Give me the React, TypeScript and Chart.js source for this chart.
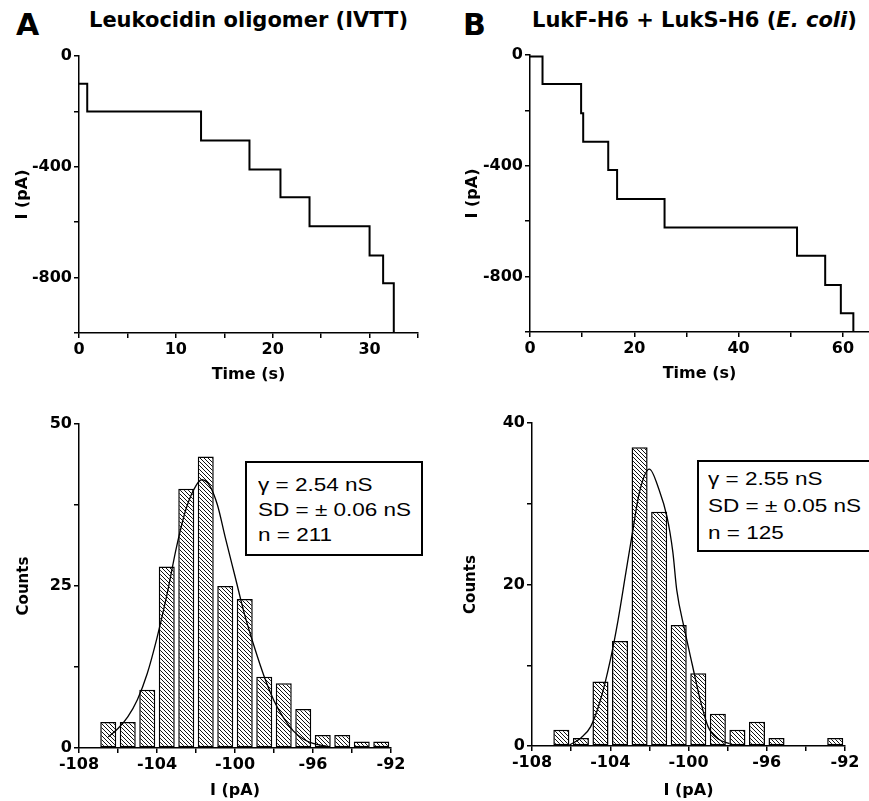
import React, { useEffect, useRef } from 'react';
import { Chart, registerables } from 'chart.js';

Chart.register(...registerables);

// ---------- Data ----------
// Panel A (top): current trace, each level starts at the given time (s)
const stepTimesA = [0, 0.85, 12.6, 17.6, 20.8, 23.8, 30.0, 31.4, 32.5];
const stepLevelsA = [-100, -200, -305, -410, -510, -615, -720, -820, -1000];
const stepEndA = 32.5;

// Panel B (top)
const stepTimesB = [0, 2.4, 9.8, 10.2, 15.0, 16.7, 25.8, 51.2, 56.6, 59.6, 62.0];
const stepLevelsB = [-5, -105, -210, -313, -415, -520, -623, -725, -830, -932, -1000];
const stepEndB = 62.0;

// Histograms (bin centres in pA)
const binCenters = [-106.5, -105.5, -104.5, -103.5, -102.5, -101.5, -100.5, -99.5, -98.5, -97.5, -96.5, -95.5, -94.5, -93.5, -92.5];
const countsA = [4, 4, 9, 28, 40, 45, 25, 23, 11, 10, 6, 2, 2, 1, 1];
const countsB = [2, 1, 8, 13, 37, 29, 15, 9, 4, 2, 3, 1, 0, 0, 1];

// Gaussian fit curves
const fitXA = [-106.5, -106.0, -105.5, -105.0, -104.5, -104.0, -103.5, -103.0, -102.5, -102.0, -101.7, -101.3, -100.9, -100.5, -100.0, -99.5, -99.0, -98.5, -98.0, -97.5, -97.0, -96.5, -96.0, -95.3];
const fitYA = [1.7, 3.0, 4.8, 7.5, 11.5, 17.0, 23.5, 31.0, 37.0, 40.5, 41.4, 40.5, 37.5, 32.5, 26.5, 20.5, 15.5, 11.0, 7.3, 4.6, 2.6, 1.4, 0.7, 0.3];
const fitXB = [-106.1, -105.5, -105.0, -104.5, -104.0, -103.6, -103.2, -102.9, -102.5, -102.0, -101.5, -101.1, -100.8, -100.6, -100.2, -99.8, -99.4, -99.0, -98.5, -97.9];
const fitYB = [0.1, 1.0, 2.4, 5.7, 10.6, 15.6, 21.5, 25.9, 31.5, 34.3, 31.7, 28.4, 24.0, 19.3, 14.4, 10.0, 5.7, 2.4, 0.9, 0.3];

const statsA = ['γ = 2.54 nS', 'SD = ± 0.06 nS', 'n = 211'];
const statsB = ['γ = 2.55 nS', 'SD = ± 0.05 nS', 'n = 125'];

// ---------- Helpers ----------
const FONT = "'DejaVu Sans', sans-serif";

function stepPoints(times: number[], levels: number[], end: number) {
  const pts: { x: number; y: number }[] = [];
  for (let i = 0; i < times.length; i++) {
    const t1 = i + 1 < times.length ? times[i + 1] : end;
    pts.push({ x: times[i], y: levels[i] });
    pts.push({ x: t1, y: levels[i] });
  }
  return pts;
}

function hatch(): CanvasPattern | string {
  const s = 4;
  const c = document.createElement('canvas');
  c.width = s;
  c.height = s;
  const g = c.getContext('2d');
  if (!g) return '#fff';
  g.fillStyle = '#fff';
  g.fillRect(0, 0, s, s);
  g.strokeStyle = '#111';
  g.lineWidth = 1;
  g.beginPath();
  for (let k = -1; k <= 1; k++) {
    g.moveTo(k * s, 0);
    g.lineTo(k * s + s, s);
  }
  g.stroke();
  return g.createPattern(c, 'repeat') || '#fff';
}

interface AxisOpts {
  min: number;
  max: number;
  step: number;
  labelBase: number;
  labelEvery: number;
  title: string;
  titleSize: number;
  titlePad: any;
  size: number;
  horizontal: boolean;
}

function axis(o: AxisOpts) {
  const isLabel = (v: number) => {
    const r = (v - o.labelBase) / o.labelEvery;
    return Math.abs(r - Math.round(r)) < 1e-6;
  };
  return {
    type: 'linear',
    min: o.min,
    max: o.max,
    offset: false,
    afterFit: (s: any) => {
      if (o.horizontal) s.height = o.size;
      else s.width = o.size;
    },
    afterBuildTicks: (s: any) => {
      const arr: { value: number }[] = [];
      for (let v = o.min; v <= o.max + 1e-9; v += o.step) arr.push({ value: +v.toFixed(6) });
      s.ticks = arr;
    },
    ticks: {
      autoSkip: false,
      maxRotation: 0,
      minRotation: 0,
      color: '#000',
      padding: 2,
      font: { family: FONT, size: 16, weight: 'bold' },
      callback: (v: number) => (isLabel(v) ? String(Math.round(v * 100) / 100) : ''),
    },
    grid: { drawOnChartArea: false, drawTicks: true, tickLength: 5, color: '#000', lineWidth: 1.5, offset: false },
    border: { display: true, color: '#000', width: 1.5 },
    title: {
      display: true,
      text: o.title,
      color: '#000',
      font: { family: FONT, size: o.titleSize, weight: 'bold' },
      padding: o.titlePad,
    },
  };
}

const commonPlugins = {
  legend: { display: false },
  tooltip: { enabled: false },
  title: { display: false },
};

function traceConfig(times: number[], levels: number[], end: number, xMax: number, xStep: number, xLabelEvery: number, pad: any, yW: number, xH: number, yTitlePad: number, xTitlePad: number) {
  return {
    type: 'line',
    data: {
      datasets: [
        {
          data: stepPoints(times, levels, end),
          borderColor: '#000',
          borderWidth: 2,
          pointRadius: 0,
          tension: 0,
          fill: false,
        },
      ],
    },
    options: {
      responsive: false,
      animation: false,
      events: [],
      layout: { padding: pad },
      plugins: commonPlugins,
      scales: {
        x: axis({ min: 0, max: xMax, step: xStep, labelBase: 0, labelEvery: xLabelEvery, title: 'Time (s)', titleSize: 16, titlePad: { top: 0, bottom: xTitlePad }, size: xH, horizontal: true }),
        y: axis({ min: -1000, max: 0, step: 200, labelBase: 0, labelEvery: 400, title: 'I (pA)', titleSize: 16, titlePad: { top: yTitlePad, bottom: 0 }, size: yW, horizontal: false }),
      },
    },
  };
}

function histConfig(counts: number[], fx: number[], fy: number[], yMax: number, yStep: number, yLabelEvery: number, pad: any, yW: number, xH: number, yTitlePad: number, xTitlePad: number) {
  return {
    type: 'bar',
    data: {
      datasets: [
        {
          type: 'line',
          data: fx.map((x, i) => ({ x, y: fy[i] })),
          borderColor: '#000',
          borderWidth: 1.3,
          pointRadius: 0,
          tension: 0.4,
          cubicInterpolationMode: 'monotone',
          fill: false,
          order: 1,
        },
        {
          type: 'bar',
          data: binCenters.map((x, i) => ({ x, y: counts[i] > 0 ? counts[i] : null })),
          backgroundColor: hatch(),
          borderColor: '#000',
          borderWidth: 1.5,
          borderSkipped: false,
          barPercentage: 0.82,
          categoryPercentage: 1,
          order: 2,
        },
      ],
    },
    options: {
      responsive: false,
      animation: false,
      events: [],
      layout: { padding: pad },
      plugins: commonPlugins,
      scales: {
        x: axis({ min: -108, max: -92, step: 2, labelBase: -108, labelEvery: 4, title: 'I (pA)', titleSize: 16, titlePad: { top: 0, bottom: xTitlePad }, size: xH, horizontal: true }),
        y: axis({ min: 0, max: yMax, step: yStep, labelBase: 0, labelEvery: yLabelEvery, title: 'Counts', titleSize: 15, titlePad: { top: yTitlePad, bottom: 0 }, size: yW, horizontal: false }),
      },
    },
  };
}

function ChartCanvas(props: { left: number; top: number; width: number; height: number; make: () => any }) {
  const ref = useRef<HTMLCanvasElement | null>(null);
  useEffect(() => {
    if (!ref.current) return;
    const chart = new Chart(ref.current, props.make());
    return () => chart.destroy();
  }, []);
  return (
    <canvas
      ref={ref}
      width={props.width}
      height={props.height}
      style={{ position: 'absolute', left: props.left, top: props.top, width: props.width, height: props.height, display: 'block' }}
    />
  );
}

function StatBox(props: { left: number; top: number; width: number; height: number; lines: string[]; textLeft: number; textTop: number; lineHeight: number }) {
  return (
    <div
      style={{
        position: 'absolute',
        left: props.left,
        top: props.top,
        width: props.width,
        height: props.height,
        boxSizing: 'border-box',
        border: '2px solid #000',
        background: '#fff',
      }}
    >
      <div
        style={{
          position: 'absolute',
          left: props.textLeft,
          top: props.textTop,
          transform: 'scaleX(1.25)',
          transformOrigin: 'left top',
          fontFamily: "'Liberation Sans', Arial, sans-serif",
          fontSize: 18,
          lineHeight: props.lineHeight + 'px',
          whiteSpace: 'nowrap',
          color: '#000',
        }}
      >
        {props.lines.map((l) => (
          <div key={l}>{l}</div>
        ))}
      </div>
    </div>
  );
}

const headStyle: React.CSSProperties = {
  position: 'absolute',
  fontFamily: FONT,
  fontWeight: 'bold',
  color: '#000',
  whiteSpace: 'nowrap',
};

export default function App() {
  return (
    <div style={{ position: 'absolute', left: 0, top: 0, width: 869, height: 801, overflow: 'hidden', background: '#fff' }}>
      <div style={{ ...headStyle, left: 16, top: 10, fontSize: 30, lineHeight: '30px' }}>A</div>
      <div style={{ ...headStyle, left: 89, top: 10, fontSize: 21, lineHeight: '21px' }}>Leukocidin oligomer (IVTT)</div>
      <div style={{ ...headStyle, left: 463, top: 10, fontSize: 30, lineHeight: '30px' }}>B</div>
      <div style={{ ...headStyle, left: 532, top: 10, fontSize: 21, lineHeight: '21px' }}>
        LukF-H6 + LukS-H6 (<i>E. coli</i>)
      </div>

      <ChartCanvas
        left={0}
        top={40}
        width={430}
        height={350}
        make={() => traceConfig(stepTimesA, stepLevelsA, stepEndA, 35, 5, 10, { top: 16, right: 12, left: 0, bottom: 0 }, 79, 57, 13, 6)}
      />
      <ChartCanvas
        left={430}
        top={40}
        width={439}
        height={350}
        make={() => traceConfig(stepTimesB, stepLevelsB, stepEndB, 65, 10, 20, { top: 15, right: 0, left: 0, bottom: 0 }, 100, 58, 33, 7)}
      />
      <ChartCanvas
        left={0}
        top={390}
        width={430}
        height={411}
        make={() => histConfig(countsA, fitXA, fitYA, 50, 12.5, 25, { top: 34, right: 39, left: 0, bottom: 0 }, 79, 53, 15, 1)}
      />
      <ChartCanvas
        left={430}
        top={390}
        width={439}
        height={411}
        make={() => histConfig(countsB, fitXB, fitYB, 40, 10, 20, { top: 33, right: 24, left: 0, bottom: 0 }, 102, 55, 32, 1)}
      />

      <StatBox left={245} top={461} width={178} height={95} lines={statsA} textLeft={11} textTop={10} lineHeight={25} />
      <StatBox left={697} top={460} width={200} height={92} lines={statsB} textLeft={9} textTop={4} lineHeight={27} />
    </div>
  );
}
